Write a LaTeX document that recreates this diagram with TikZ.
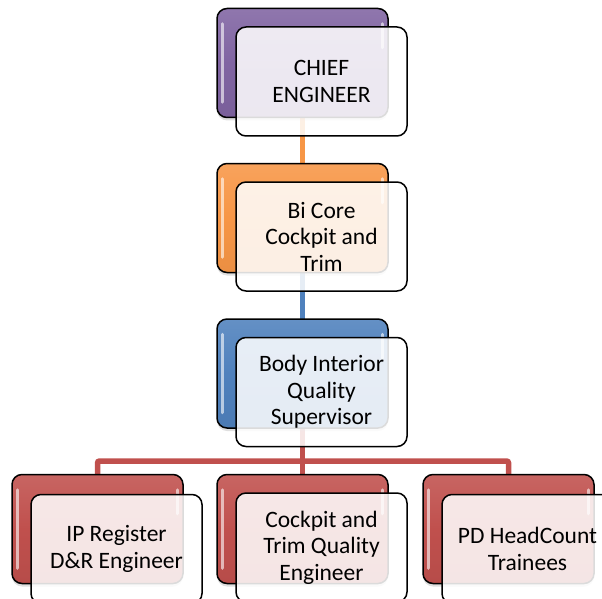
\documentclass[tikz,border=0pt]{standalone}
\usepackage{fontspec}
\setmainfont{Carlito}
\usetikzlibrary{shadows}
\definecolor{cpurple}{HTML}{8064A2}
\definecolor{corange}{HTML}{F79646}
\definecolor{cblue}{HTML}{4F81BD}
\definecolor{cred}{HTML}{C0504D}
\tikzset{
  backbox/.style={draw=black, line width=1.5pt, rounded corners=10pt,
    minimum width=171pt, minimum height=109pt,
    top color=#1!88!white, bottom color=#1!95!black, middle color=#1,
    drop shadow={shadow xshift=0pt, shadow yshift=-3pt, opacity=0.25}},
  frontbox/.style={draw=black, line width=1.5pt, rounded corners=10pt,
    minimum width=171pt, minimum height=109pt, fill=white,
    fill opacity=0.86, text opacity=1, align=center,
    font=\fontsize{23.5}{26.5}\selectfont},
  link/.style={line width=5.5pt, rounded corners=2pt},
  gloss/.style={white, line width=3pt, line cap=round, opacity=0.6}
}
\newcommand{\glossy}[1]{%
  \draw[gloss] ([xshift=6pt,yshift=-16pt]#1.north west) -- ([xshift=6pt,yshift=16pt]#1.south west);
  \draw[gloss] ([xshift=-6pt,yshift=-16pt]#1.north east) -- ([xshift=-6pt,yshift=-40pt]#1.north east);
}
\begin{document}
\begin{tikzpicture}[x=1pt,y=-1pt]
\useasboundingbox (0,0) rectangle (602,599);
% connectors (behind the boxes)
\coordinate (c1) at (302.5,63);
\coordinate (c2) at (302.5,218);
\coordinate (c3) at (302.5,373.5);
\coordinate (c4a) at (97.5,529);
\coordinate (c4b) at (302.5,529);
\coordinate (c4c) at (508.5,529);
\draw[link, corange] (c1) -- (c2);
\draw[link, cblue] (c2) -- (c3);
\coordinate (j) at (302.5,461);
\draw[link, cred] (c3) -- (j);
\draw[link, cred] (j) -| (c4a);
\draw[link, cred] (j) -| (c4c);
\draw[link, cred] (j) -- (c4b);
% back boxes
\node[backbox=cpurple] (b1) at (c1) {};
\node[backbox=corange] (b2) at (c2) {};
\node[backbox=cblue] (b3) at (c3) {};
\node[backbox=cred] (b4a) at (c4a) {};
\node[backbox=cred] (b4b) at (c4b) {};
\node[backbox=cred] (b4c) at (c4c) {};
\glossy{b1}\glossy{b2}\glossy{b3}\glossy{b4a}\glossy{b4b}\glossy{b4c}
% front boxes with the titles
\node[frontbox] (f1) at (321.5,81.5) {CHIEF\\ENGINEER};
\node[frontbox] (f2) at (321.5,236.5) {Bi Core\\Cockpit and\\Trim};
\node[frontbox] (f3) at (321.5,392) {Body Interior\\Quality\\Supervisor};
\node[frontbox] (f4a) at (116.5,549) {IP Register\\D\&R Engineer};
\node[frontbox] (f4b) at (321.5,547.5) {Cockpit and\\Trim Quality\\Engineer};
\node[frontbox] (f4c) at (527.5,549) {PD HeadCount\\Trainees};
\end{tikzpicture}
\end{document}
